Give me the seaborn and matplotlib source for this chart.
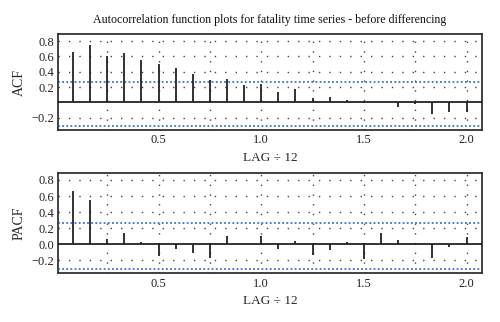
import numpy as np
import pandas as pd
import matplotlib
matplotlib.use("Agg")
import matplotlib.pyplot as plt
import seaborn as sns

# ---- data ----
lags = list(range(1, 25))
acf_values = [0.657, 0.743, 0.605, 0.648, 0.557, 0.505, 0.454, 0.376,
              0.298, 0.302, 0.225, 0.246, 0.130, 0.173, 0.052, 0.073,
              0.030, -0.010, 0.0, -0.065, -0.020, -0.155, -0.128, -0.128]
pacf_values = [0.667, 0.550, 0.070, 0.142, 0.025, -0.142, -0.054, -0.104,
               -0.172, 0.100, 0.0, 0.100, -0.060, 0.037, -0.138, -0.065,
               0.030, -0.177, 0.144, 0.050, 0.0, -0.175, -0.038, 0.096]
ci_upper = 0.265
ci_lower = -0.302
title = "Autocorrelation function plots for fatality time series - before differencing"
xlabel = "LAG \u00f7 12"
xticks = [0.5, 1.0, 1.5, 2.0]

df = pd.DataFrame({"lag": np.array(lags) / 12.0, "ACF": acf_values, "PACF": pacf_values})

sns.set_theme(style="white")
plt.rcParams["font.family"] = ["Liberation Serif", "DejaVu Serif"]

fig = plt.figure(figsize=(5.0, 3.22), dpi=100)
ax1 = fig.add_axes([0.116, 0.596, 0.848, 0.298])
ax2 = fig.add_axes([0.116, 0.151, 0.848, 0.3127])

def style_panel(ax, col, yticks, yticklabels):
    ax.set_xlim(0.01, 2.075)
    ax.set_ylim(-0.36, 0.89)
    # grid of dots
    for gx in np.arange(0.25, 2.01, 0.25):
        ax.axvline(gx, color="#444444", lw=1.0, ls=(0, (1, 6)), zorder=1)
    for gy in [0.8, 0.6, 0.4, 0.2, -0.2]:
        ax.axhline(gy, color="#444444", lw=1.0, ls=(0, (1, 6.5)), zorder=1)
    # confidence lines
    ax.axhline(ci_upper, color="#3a6fd8", lw=1.3, ls=(0, (1, 1.3)), zorder=2)
    ax.axhline(ci_lower, color="#3a6fd8", lw=1.3, ls=(0, (1, 1.3)), zorder=2)
    ax.axhline(0, color="#111111", lw=1.2, zorder=3)
    ax.vlines(df["lag"], 0, df[col], color="#222222", lw=1.3, zorder=4)
    ax.set_yticks(yticks)
    ax.set_yticklabels(yticklabels)
    ax.set_xticks(xticks)
    ax.set_xticklabels([f"{t:.1f}" for t in xticks])
    ax.tick_params(axis="both", labelsize=9, length=2, direction="in", pad=3,
                   colors="#222222")
    ax.set_ylabel(col, fontsize=10, labelpad=4)
    ax.set_xlabel(xlabel, fontsize=9.5, labelpad=4)
    for s in ax.spines.values():
        s.set_color("#333333")
        s.set_linewidth(1.3)

style_panel(ax1, "ACF", [0.8, 0.6, 0.4, 0.2, -0.2], ["0.8", "0.6", "0.4", "0.2", "\u22120.2"])
style_panel(ax2, "PACF", [0.8, 0.6, 0.4, 0.2, 0.0, -0.2],
            ["0.8", "0.6", "0.4", "0.2", "0.0", "\u22120.2"])

fig.text(0.54, 0.938, title, ha="center", va="center", fontsize=8.6, color="#111111")

fig.savefig("out.png", dpi=100)
